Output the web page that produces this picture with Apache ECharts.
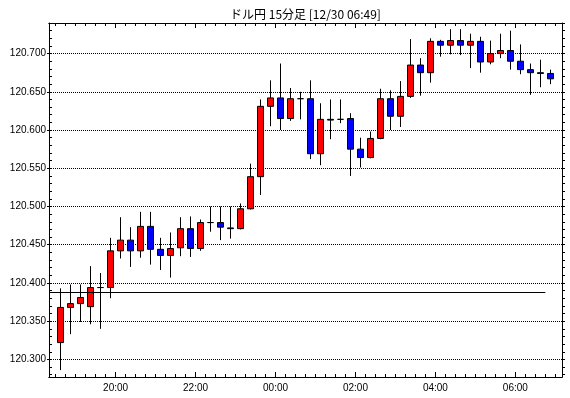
<!DOCTYPE html>
<html>
<head>
<meta charset="utf-8">
<script src="https://cdn.jsdelivr.net/npm/echarts/dist/echarts.min.js"></script>
<style>html,body{margin:0;padding:0;background:#fff;}#c{width:570px;height:398px;}</style>
</head>
<body>
<div id="c"></div>
<script>
// ---- data ----
var titleText = 'ドル円 15分足 [12/30 06:49]';
var times = ['18:30','18:45','19:00','19:15','19:30','19:45','20:00','20:15','20:30','20:45',
             '21:00','21:15','21:30','21:45','22:00','22:15','22:30','22:45','23:00','23:15',
             '23:30','23:45','00:00','00:15','00:30','00:45','01:00','01:15','01:30','01:45',
             '02:00','02:15','02:30','02:45','03:00','03:15','03:30','03:45','04:00','04:15',
             '04:30','04:45','05:00','05:15','05:30','05:45','06:00','06:15','06:30','06:45'];
var open = [120.322,120.368,120.373,120.369,120.394,120.394,120.442,120.456,120.442,120.474,
            120.444,120.436,120.446,120.471,120.445,120.479,120.479,120.472,120.471,120.497,
            120.539,120.631,120.642,120.615,120.641,120.641,120.569,120.614,120.614,120.615,
            120.575,120.564,120.589,120.641,120.618,120.644,120.685,120.675,120.716,120.711,
            120.717,120.711,120.716,120.689,120.700,120.704,120.690,120.679,120.675,120.674];
var close = [120.368,120.373,120.381,120.394,120.394,120.442,120.456,120.442,120.474,120.444,
             120.436,120.445,120.471,120.445,120.479,120.479,120.473,120.471,120.497,120.539,
             120.631,120.642,120.615,120.641,120.641,120.569,120.614,120.613,120.614,120.575,
             120.564,120.589,120.641,120.618,120.644,120.685,120.675,120.716,120.711,120.717,
             120.711,120.716,120.689,120.700,120.704,120.690,120.679,120.675,120.674,120.667];
var high = [120.393,120.398,120.398,120.422,120.413,120.459,120.486,120.473,120.493,120.493,
            120.459,120.466,120.486,120.487,120.483,120.500,120.500,120.500,120.504,120.556,
            120.640,120.665,120.687,120.655,120.650,120.665,120.635,120.640,120.640,120.622,
            120.590,120.598,120.654,120.652,120.664,120.719,120.694,120.720,120.718,120.732,
            120.732,120.726,120.722,120.717,120.726,120.730,120.712,120.687,120.692,120.679];
var low = [120.286,120.333,120.349,120.346,120.340,120.380,120.432,120.421,120.433,120.424,
           120.417,120.407,120.435,120.434,120.442,120.467,120.456,120.458,120.470,120.496,
           120.515,120.605,120.600,120.612,120.614,120.562,120.554,120.588,120.609,120.540,
           120.551,120.563,120.588,120.600,120.604,120.642,120.645,120.662,120.696,120.699,
           120.698,120.681,120.675,120.686,120.694,120.679,120.673,120.646,120.656,120.660];
var refLevel = 120.388;          // horizontal reference line
var refEnd = '06:45';            // reference line ends here
var xTickLabels = ['20:00','22:00','00:00','02:00','04:00','06:00'];
var yTickLabels = [120.300,120.350,120.400,120.450,120.500,120.550,120.600,120.650,120.700];
var xStart = '18:20', xEnd = '07:10';
var yMin = 120.277, yMax = 120.740;

// ---- helpers ----
function toMin(t){var p=t.split(':');var h=+p[0],m=+p[1];return ((h-18+24)%24)*60+m;}
function fmtMin(v){var h=(18+Math.floor(v/60))%24;var m=Math.round(v%60);return (h<10?'0':'')+h+':'+(m<10?'0':'')+m;}
var xMin = toMin(xStart), xMax = toMin(xEnd);
var xMajor = xTickLabels.map(toMin);
var xMinor = [];
for (var m = Math.ceil(xMin/15)*15; m <= xMax; m += 15) xMinor.push(m);
var yMinor = [];
for (var k = Math.ceil(yMin*100); k <= Math.floor(yMax*100); k++) yMinor.push(k/100);

var candles = times.map(function(t,i){return [toMin(t)+7.5, open[i], close[i], low[i], high[i]];});

var FONT = 'Liberation Sans';
var black = '#000';
function xAx(pos, ticks, len, labels){
  return {type:'value', min:xMin, max:xMax, position:pos,
    axisLine:{show:true, onZero:false, lineStyle:{color:black,width:1}},
    axisTick:{show:true, inside:true, length:len, customValues:ticks, lineStyle:{color:black,width:1}},
    axisLabel:labels ? {show:true, customValues:xMajor, formatter:fmtMin, color:black, fontSize:10, fontFamily:FONT, margin:6} : {show:false},
    splitLine:{show:false}};
}

var chart = echarts.init(document.getElementById('c'), null, {renderer:'canvas'});
chart.setOption({
  animation:false,
  backgroundColor:'#fff',
  graphic:[{type:'text', x:305.5, y:14.5, style:{text:titleText, fill:black,
    font:'12px "Noto Sans CJK JP"', align:'center', verticalAlign:'middle', textAlign:'center', textVerticalAlign:'middle'}}],
  grid:{left:49, right:8, top:23, bottom:21, containLabel:false},
  xAxis:[
    xAx('bottom', xMajor, 5, true),
    xAx('bottom', xMinor, 3, false),
    xAx('top', xMajor, 5, false),
    xAx('top', xMinor, 3, false)
  ],
  yAxis:[
    {type:'value', min:yMin, max:yMax, position:'left',
     axisLine:{show:true, lineStyle:{color:black,width:1}},
     axisTick:{show:true, inside:false, length:2, customValues:yTickLabels, lineStyle:{color:black}},
     axisLabel:{show:true, customValues:yTickLabels, formatter:function(v){return v.toFixed(3);}, color:black, fontSize:10, fontFamily:FONT, margin:3},
     splitLine:{show:true, lineStyle:{color:black, width:1, type:[1,1]}}},
    {type:'value', min:yMin, max:yMax, position:'left',
     axisLine:{show:false},
     axisTick:{show:true, inside:true, length:3, customValues:yMinor, lineStyle:{color:black}},
     axisLabel:{show:false}, splitLine:{show:false}},
    {type:'value', min:yMin, max:yMax, position:'right',
     axisLine:{show:true, lineStyle:{color:black,width:1}},
     axisTick:{show:true, inside:false, length:3, customValues:yMinor, lineStyle:{color:black}},
     axisLabel:{show:false}, splitLine:{show:false}}
  ],
  series:[{
    type:'candlestick', xAxisIndex:0, yAxisIndex:0,
    barWidth:6,
    data:candles,
    itemStyle:{color:'#ff0000', color0:'#0000ff', borderColor:black, borderColor0:black, borderColorDoji:black, borderWidth:1},
    markLine:{silent:true, symbol:['none','none'], animation:false,
      label:{show:false},
      lineStyle:{color:black, width:1, type:'solid'},
      data:[[{coord:[xMin, refLevel]},{coord:[toMin(refEnd), refLevel]}]]}
  }]
});
</script>
</body>
</html>
